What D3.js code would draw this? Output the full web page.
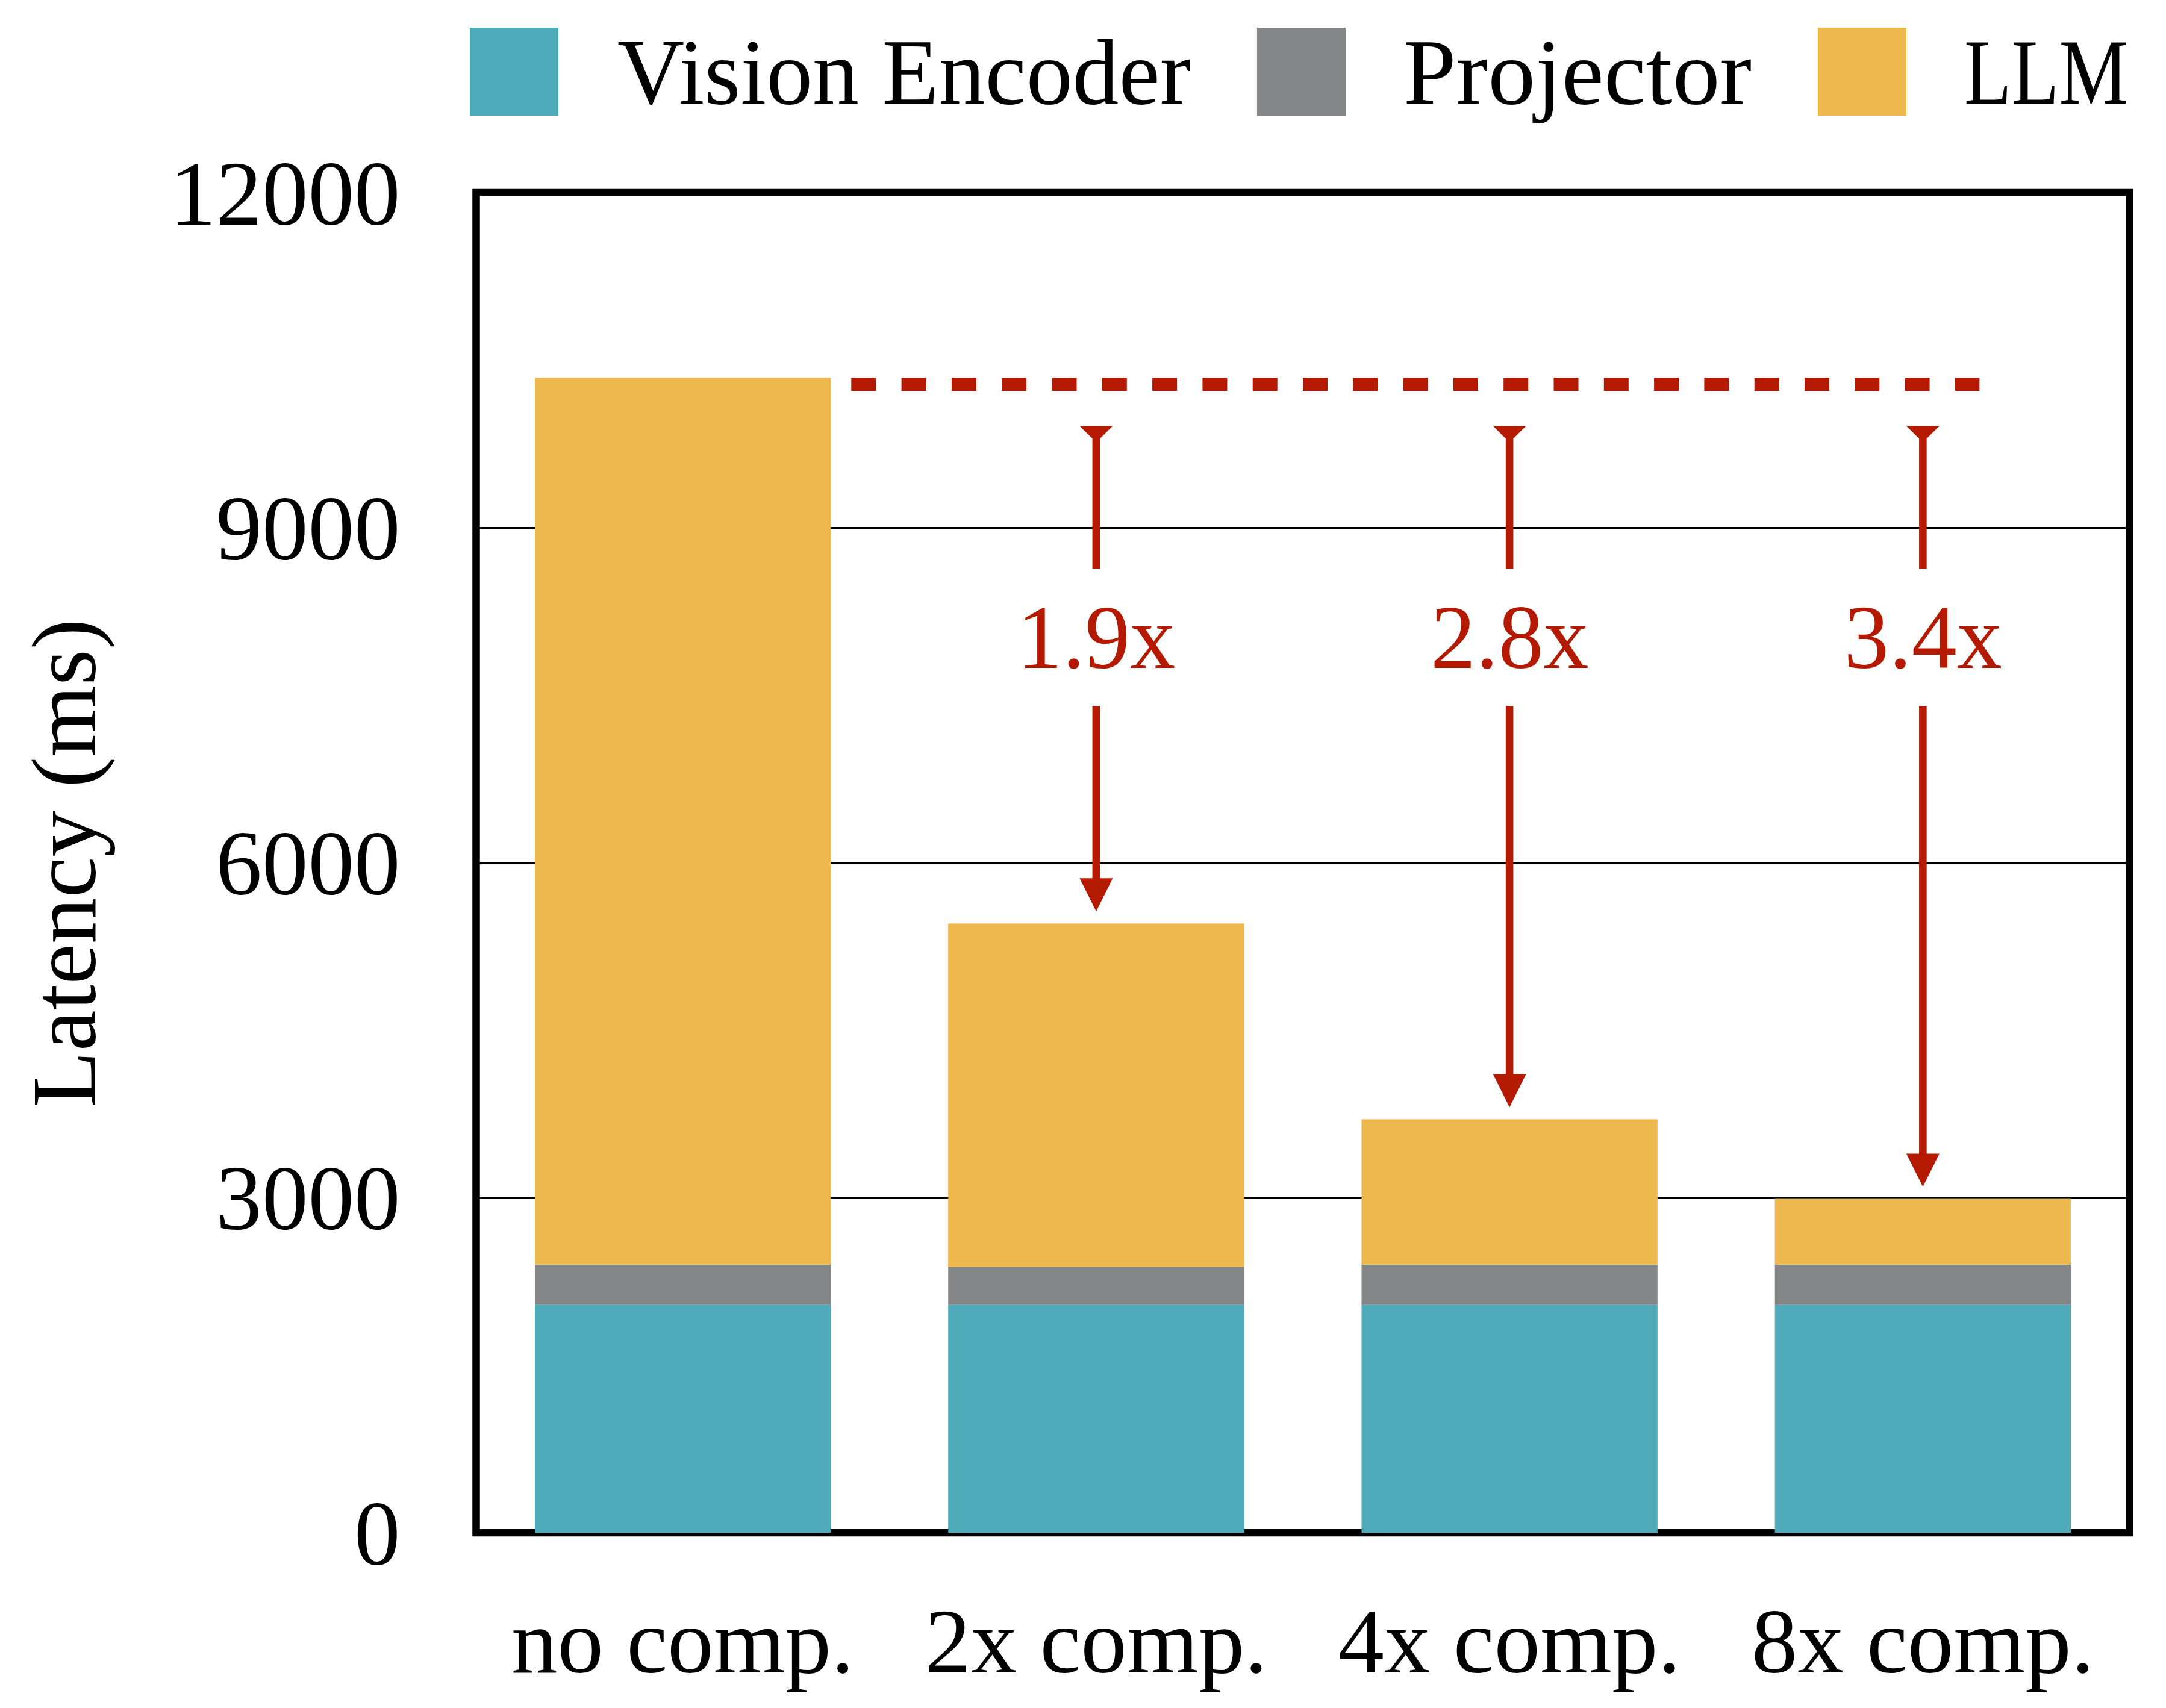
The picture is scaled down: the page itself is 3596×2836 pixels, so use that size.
<!DOCTYPE html>
<html>
<head>
<meta charset="utf-8">
<script src="https://cdn.jsdelivr.net/npm/d3@7"></script>
<style>
  html, body { margin: 0; padding: 0; background: #fff; }
  svg { display: block; }
  text { font-family: "Liberation Serif", "DejaVu Serif", serif; }
</style>
</head>
<body>
<script>
// ---------- data ----------
const categories = ["no comp.", "2x comp.", "4x comp.", "8x comp."];
const seriesNames = ["Vision Encoder", "Projector", "LLM"];
const visionEncoder = [2040, 2040, 2040, 2040];
const projector = [362, 340, 362, 362];
const llm = [7941, 3076, 1301, 588];
const yTicks = [0, 3000, 6000, 9000, 12000];
const speedupLabels = ["", "1.9x", "2.8x", "3.4x"];

const colors = { "Vision Encoder": "#4FAAB9", "Projector": "#858688", "LLM": "#EDB94E" };
const red = "#B41A02";

// ---------- layout ----------
(function () {
const W = 3596, H = 2836;
const pLeft = 790.5, pRight = 3535.5, pTop = 320, pBottom = 2545;
const fontSize = 153;

const svg = d3.select("body").append("svg").attr("width", W).attr("height", H);

const rows = categories.map((c, i) => ({
  cat: c,
  "Vision Encoder": visionEncoder[i],
  "Projector": projector[i],
  "LLM": llm[i]
}));
const stacked = d3.stack().keys(seriesNames)(rows);
const totals = rows.map(r => seriesNames.reduce((s, k) => s + r[k], 0));

const x = d3.scaleBand().domain(categories).range([pLeft, pRight])
  .paddingInner(0.284).paddingOuter(0.142);
const y = d3.scaleLinear().domain([0, 12000]).range([pBottom, pTop]);

// gridlines
svg.append("g")
  .attr("transform", `translate(${pLeft},0)`)
  .call(d3.axisLeft(y).tickValues([3000, 6000, 9000]).tickSize(-(pRight - pLeft)).tickFormat(""))
  .call(g => g.select(".domain").remove())
  .call(g => g.selectAll("line").attr("stroke", "#000").attr("stroke-width", 3.5));

// frame
svg.append("rect")
  .attr("x", pLeft).attr("y", y(12000) - 1)
  .attr("width", pRight - pLeft).attr("height", pBottom - y(12000) + 1)
  .attr("fill", "none").attr("stroke", "#000").attr("stroke-width", 12.5);

// bars
svg.append("g").selectAll("g").data(stacked).join("g")
  .attr("fill", d => colors[d.key])
  .selectAll("rect").data(d => d).join("rect")
  .attr("x", d => x(d.data.cat))
  .attr("width", x.bandwidth())
  .attr("y", d => y(d[1]))
  .attr("height", d => y(d[0]) - y(d[1]));

// y axis labels
svg.append("g")
  .attr("transform", `translate(${pLeft},0)`)
  .call(d3.axisLeft(y).tickValues(yTicks).tickSize(0).tickPadding(126).tickFormat(d3.format("d")))
  .call(g => g.select(".domain").remove())
  .call(g => g.selectAll("text").attr("font-size", fontSize).attr("fill", "#000")
    .attr("font-family", "Liberation Serif").attr("dy", "0.34em"));

// x axis labels
svg.append("g")
  .attr("transform", `translate(0,${pBottom})`)
  .call(d3.axisBottom(x).tickSize(0).tickPadding(123))
  .call(g => g.select(".domain").remove())
  .call(g => g.selectAll("text").attr("font-size", fontSize).attr("fill", "#000")
    .attr("font-family", "Liberation Serif"));

// y title
svg.append("text")
  .attr("transform", `translate(158,1433) rotate(-90)`)
  .attr("text-anchor", "middle")
  .attr("font-size", fontSize)
  .text("Latency (ms)");

// dashed reference line
const refTop = y(totals[0]);
const dashY = refTop + 11;
svg.append("line")
  .attr("x1", x(categories[0]) + x.bandwidth() + 34)
  .attr("x2", x(categories[3]) + x.bandwidth() / 2 + 94)
  .attr("y1", dashY).attr("y2", dashY)
  .attr("stroke", red).attr("stroke-width", 22)
  .attr("stroke-dasharray", "41 42.3");

// speedup arrows
const arrowTop = dashY + 69;
const textBase = arrowTop + 402;
const upperEnd = textBase - 165;
const lowerStart = textBase + 63;
const arrows = svg.append("g");
categories.forEach((c, i) => {
  if (!speedupLabels[i]) return;
  const cx = x(c) + x.bandwidth() / 2;
  const tip = y(totals[i]) - 20;
  const g = arrows.append("g").attr("fill", red);
  g.append("path").attr("d",
    `M${cx - 27.5},${arrowTop} L${cx + 27.5},${arrowTop} L${cx + 6.3},${arrowTop + 21} L${cx - 6.3},${arrowTop + 21} Z`);
  g.append("rect").attr("x", cx - 6.3).attr("width", 12.6)
    .attr("y", arrowTop + 20).attr("height", upperEnd - (arrowTop + 20));
  g.append("text").attr("x", cx).attr("y", textBase)
    .attr("text-anchor", "middle").attr("font-size", 150).text(speedupLabels[i]);
  g.append("rect").attr("x", cx - 6.3).attr("width", 12.6)
    .attr("y", lowerStart).attr("height", (tip - 55) - lowerStart + 1);
  g.append("path").attr("d",
    `M${cx - 27.5},${tip - 55} L${cx + 27.5},${tip - 55} L${cx},${tip} Z`);
});

// legend
const legendItems = [
  { key: "Vision Encoder", sx: 780, tx: 1025, tw: 952 },
  { key: "Projector", sx: 2087, tx: 2330, tw: 578 },
  { key: "LLM", sx: 3018, tx: 3261, tw: 272 }
];
const lg = svg.append("g");
legendItems.forEach(d => {
  lg.append("rect").attr("x", d.sx).attr("y", 46).attr("width", 147).attr("height", 146)
    .attr("fill", colors[d.key]);
  lg.append("text").attr("x", d.tx).attr("y", 172).attr("font-size", 155)
    .attr("textLength", d.tw).attr("lengthAdjust", "spacingAndGlyphs").text(d.key);
});
})();
</script>
</body>
</html>
